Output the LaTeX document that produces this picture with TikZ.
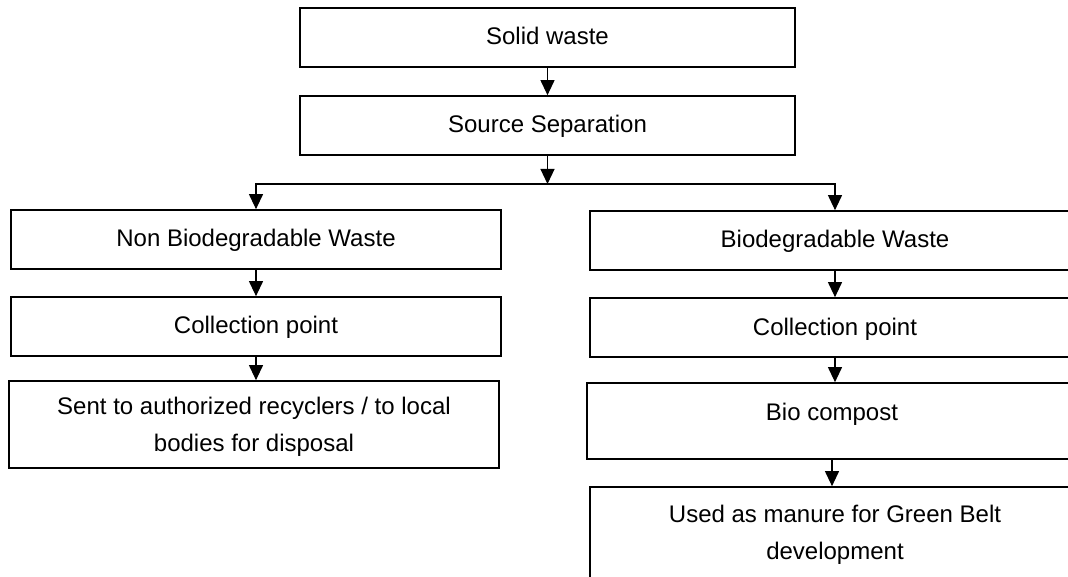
\documentclass[tikz,border=0pt]{standalone}
\usepackage{fontspec}
\setmainfont{Liberation Sans}
\usetikzlibrary{arrows.meta}
\begin{document}
\begin{tikzpicture}[x=1pt,y=-1pt,
  box/.style={draw=black, line width=1.7pt, rectangle, inner sep=0pt, minimum width=490pt},
  txt/.style={font=\fontsize{24}{37}\selectfont, inner sep=0pt, align=center, anchor=base},
  conn/.style={line width=1.1pt, -{Triangle[width=14pt,length=15pt]}}]
\useasboundingbox (0,0) rectangle (1068,577);
\clip (0,0) rectangle (1068,577);
% boxes
\node[box, minimum width=495pt, minimum height=59pt] (solid) at (547.5,37.5) {};
\node[box, minimum width=495pt, minimum height=59pt] (sep) at (547.5,125.5) {};
\node[box, minimum height=59pt] (nonbio) at (256,239.5) {};
\node[box, minimum height=59pt] (biow) at (835,240.5) {};
\node[box, minimum height=59pt] (coll1) at (256,326.5) {};
\node[box, minimum height=59pt] (coll2) at (835,327.5) {};
\node[box, minimum height=87pt] (sent) at (254,424.5) {};
\node[box, minimum height=76pt] (comp) at (832,421) {};
\node[box, minimum height=133pt] (manure) at (835,553.5) {};
% texts
\node[txt] (tsolid) at (547.5,45) {Solid waste};
\node[txt] (tsep) at (547.5,133) {Source Separation};
\node[txt] (tnonbio) at (256,247) {Non Biodegradable Waste};
\node[txt] (tbiow) at (835,248) {Biodegradable Waste};
\node[txt] (tcoll1) at (256,334) {Collection point};
\node[txt] (tcoll2) at (835,335) {Collection point};
\node[txt] (tsent) at (254,451) {Sent to authorized recyclers / to local\\bodies for disposal};
\node[txt] (tcomp) at (832,420) {Bio compost};
\node[txt] (tmanure) at (835,559) {Used as manure for Green Belt\\development};
% connectors
\coordinate (junc) at (547.5,184);
\draw[conn] (solid.south) -- (sep.north);
\draw[conn] (sep.south) -- (junc);
\draw[conn] (junc) -| (nonbio.north);
\draw[conn] (junc) -| (biow.north);
\draw[conn] (nonbio.south) -- (coll1.north);
\draw[conn] (coll1.south) -- (sent.north -| coll1.south);
\draw[conn] (biow.south) -- (coll2.north);
\draw[conn] (coll2.south) -- (comp.north -| coll2.south);
\draw[conn] (comp.south) -- (manure.north -| comp.south);
\end{tikzpicture}
\end{document}
